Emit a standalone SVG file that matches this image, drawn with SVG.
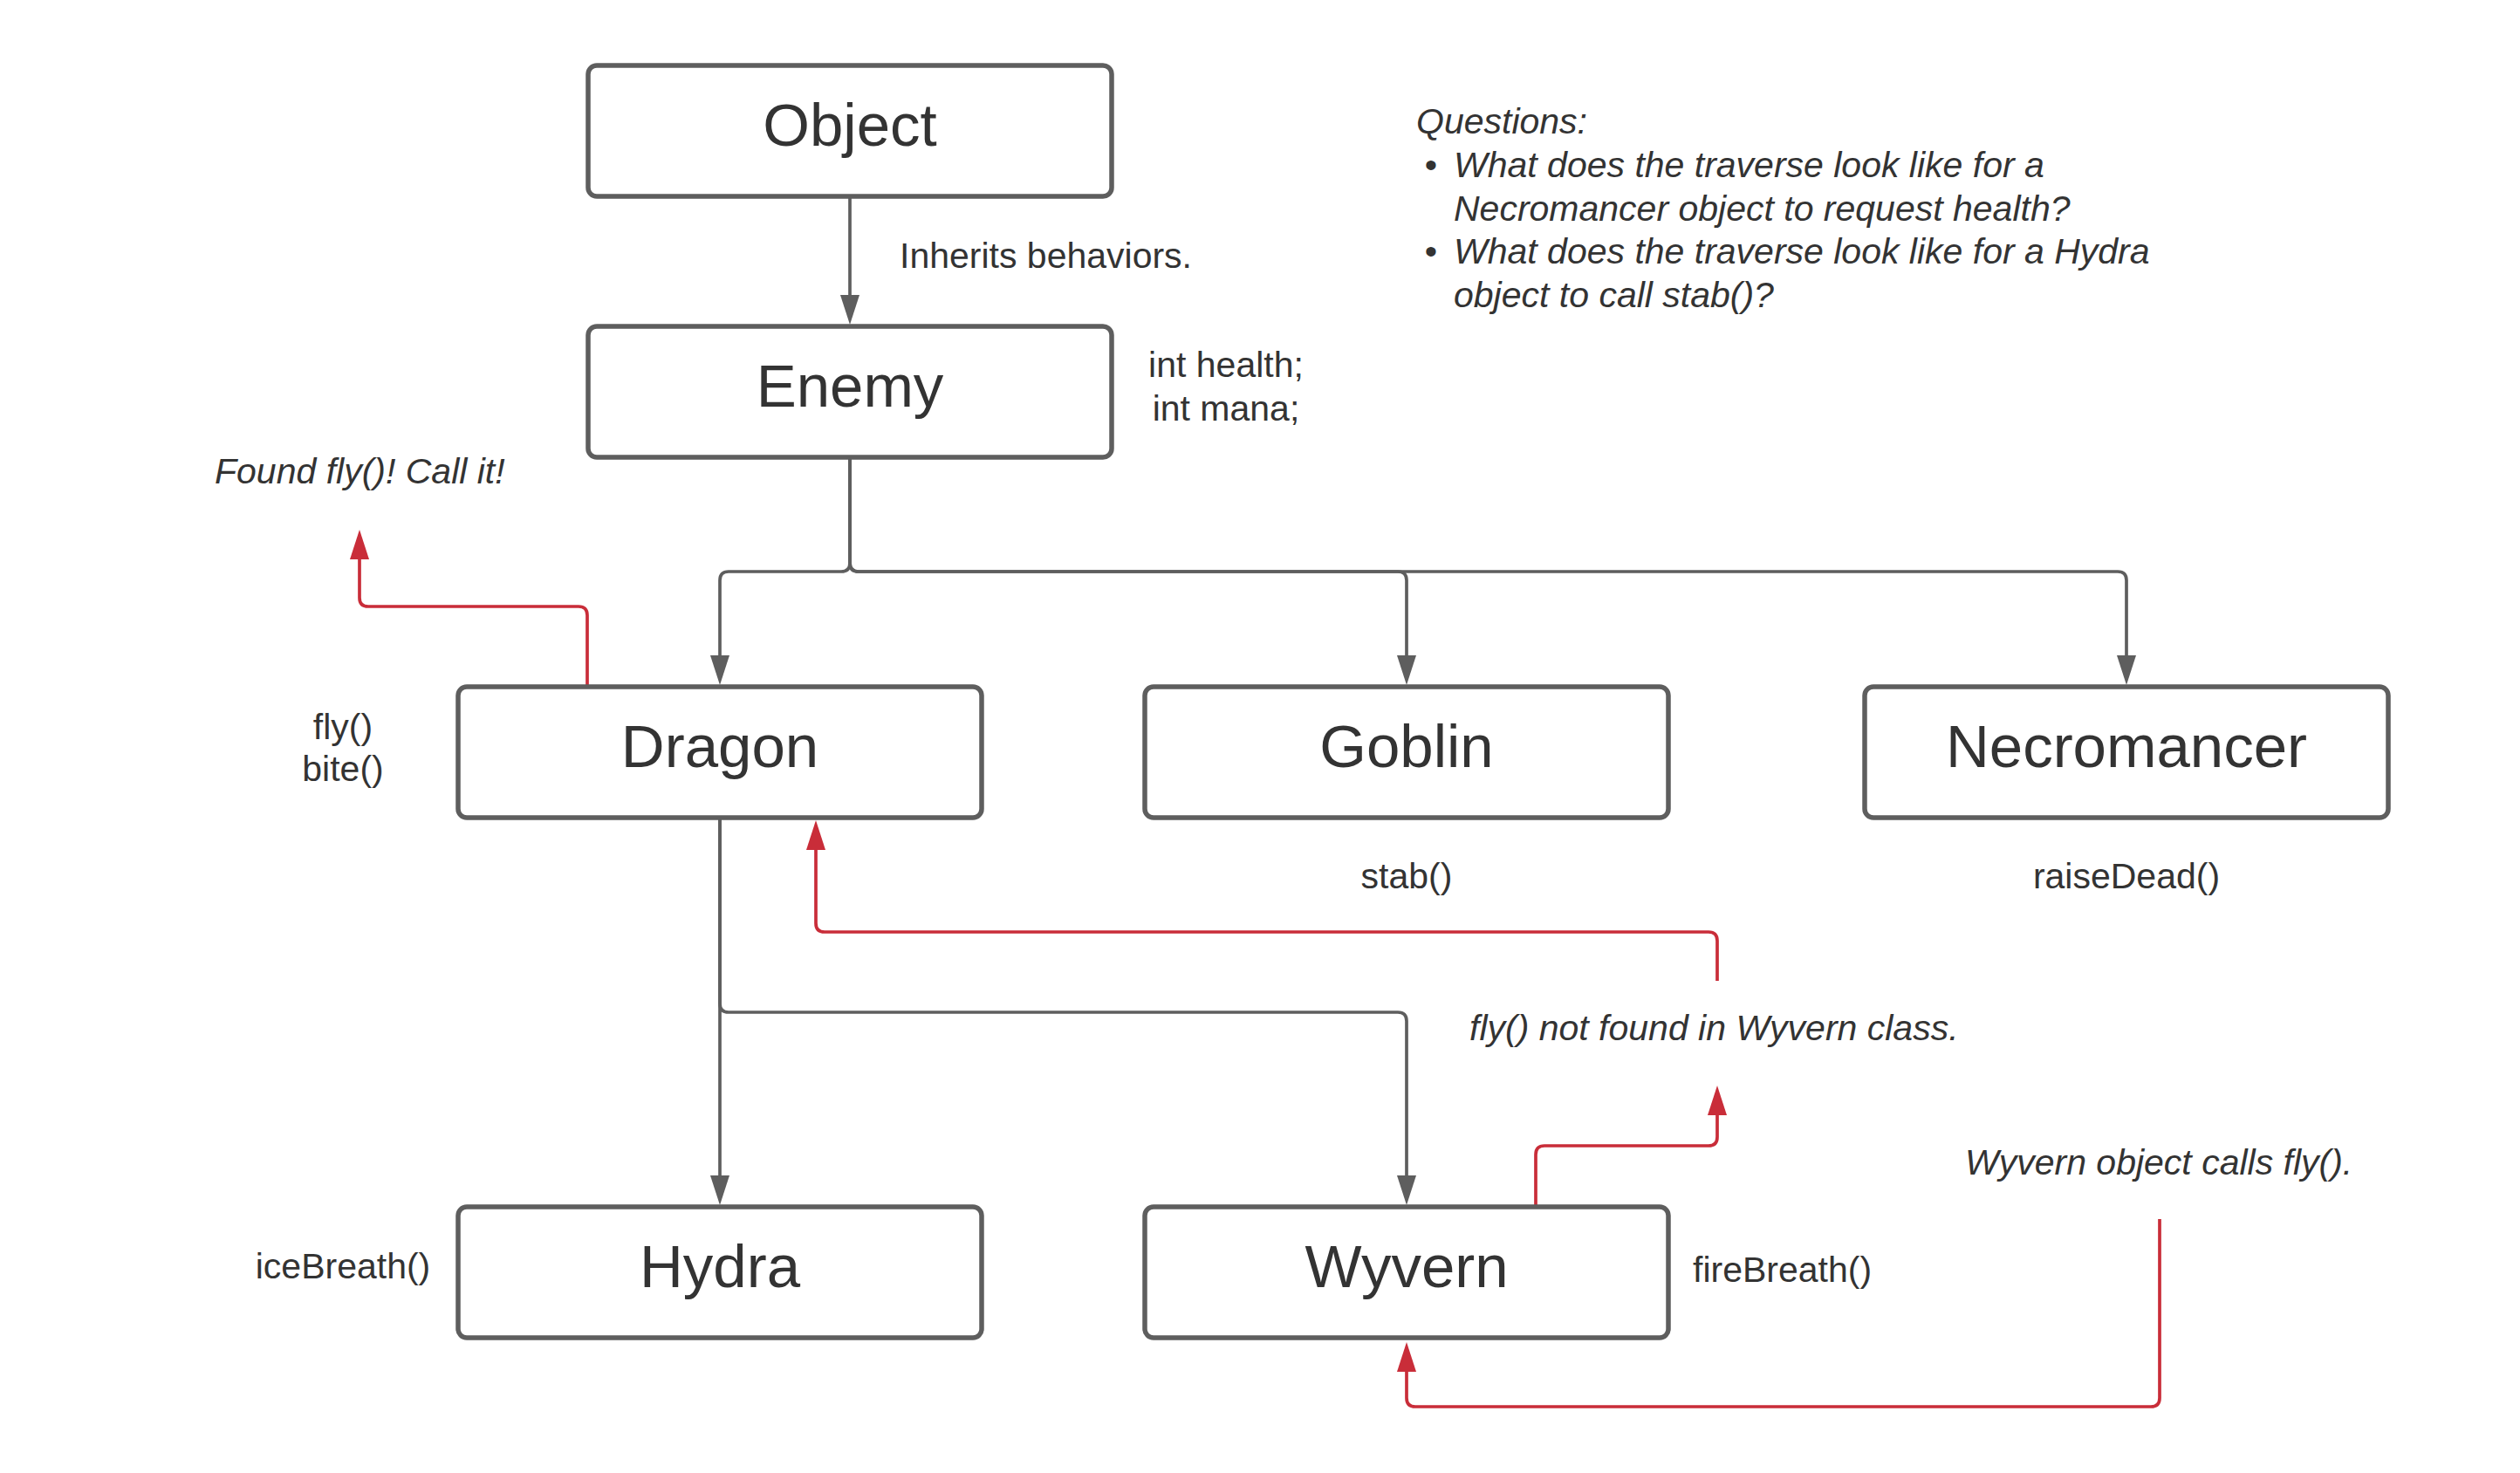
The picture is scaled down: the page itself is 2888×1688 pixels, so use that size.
<svg xmlns="http://www.w3.org/2000/svg" width="2888" height="1688" viewBox="0 0 2888 1688">
<style>
.box{fill:#ffffff;stroke:#5e5e5e;stroke-width:5.5}
.title{font-family:"Liberation Sans",Arial,sans-serif;font-size:69px;fill:#333333;text-anchor:middle}
.lbl{font-family:"Liberation Sans",Arial,sans-serif;font-size:41px;fill:#333333}
.it{font-style:italic}
.mid{text-anchor:middle}
.g{fill:none;stroke:#5e5e5e;stroke-width:3.7}
.r{fill:none;stroke:#c92d39;stroke-width:3.7}
</style>
<defs>
<marker id="ag" markerUnits="userSpaceOnUse" markerWidth="36" markerHeight="24" refX="0" refY="11" orient="auto" overflow="visible">
<path d="M0,0 L34,11 L0,22 z" fill="#5e5e5e"/>
</marker>
<marker id="ar" markerUnits="userSpaceOnUse" markerWidth="36" markerHeight="24" refX="0" refY="11" orient="auto" overflow="visible">
<path d="M0,0 L34,11 L0,22 z" fill="#c92d39"/>
</marker>
</defs>
<rect width="2888" height="1688" fill="#ffffff"/>
<g id="connectors">
<path class="g" d="M974,225 V338" marker-end="url(#ag)"/>
<path class="g" d="M974,524 V645 Q974,655 964,655 H835 Q825,655 825,665 V751" marker-end="url(#ag)"/>
<path class="g" d="M974,524 V645 Q974,655 984,655 H1602 Q1612,655 1612,665 V751" marker-end="url(#ag)"/>
<path class="g" d="M974,524 V645 Q974,655 984,655 H2427 Q2437,655 2437,665 V751" marker-end="url(#ag)"/>
<path class="g" d="M825,937 V1347" marker-end="url(#ag)"/>
<path class="g" d="M825,937 V1150 Q825,1160 835,1160 H1602 Q1612,1160 1612,1170 V1347" marker-end="url(#ag)"/>
<path class="r" d="M673,785 V705 Q673,695 663,695 H422 Q412,695 412,685 V641" marker-end="url(#ar)"/>
<path class="r" d="M1968,1124 V1078 Q1968,1068 1958,1068 H945 Q935,1068 935,1058 V974" marker-end="url(#ar)"/>
<path class="r" d="M1760,1381 V1323 Q1760,1313 1770,1313 H1958 Q1968,1313 1968,1303 V1278" marker-end="url(#ar)"/>
<path class="r" d="M2475,1397 V1602 Q2475,1612 2465,1612 H1622 Q1612,1612 1612,1602 V1572" marker-end="url(#ar)"/>
</g>
<g id="node-object">
<rect class="box" x="674" y="75" width="600" height="150" rx="10"/>
<text class="title" x="974" y="167">Object</text>
</g>
<g id="node-enemy">
<rect class="box" x="674" y="374" width="600" height="150" rx="10"/>
<text class="title" x="974" y="466">Enemy</text>
</g>
<g id="node-dragon">
<rect class="box" x="525" y="787" width="600" height="150" rx="10"/>
<text class="title" x="825" y="879">Dragon</text>
</g>
<g id="node-goblin">
<rect class="box" x="1312" y="787" width="600" height="150" rx="10"/>
<text class="title" x="1612" y="879">Goblin</text>
</g>
<g id="node-necromancer">
<rect class="box" x="2137" y="787" width="600" height="150" rx="10"/>
<text class="title" x="2437" y="879">Necromancer</text>
</g>
<g id="node-hydra">
<rect class="box" x="525" y="1383" width="600" height="150" rx="10"/>
<text class="title" x="825" y="1475">Hydra</text>
</g>
<g id="node-wyvern">
<rect class="box" x="1312" y="1383" width="600" height="150" rx="10"/>
<text class="title" x="1612" y="1475">Wyvern</text>
</g>
<g id="labels">
<text class="lbl" x="1031" y="307">Inherits behaviors.</text>
<text class="lbl mid" x="1405" y="432">int health;</text>
<text class="lbl mid" x="1405" y="482">int mana;</text>
<text class="lbl it" x="1623" y="153">Questions:</text>
<text class="lbl mid" x="1640" y="203">•</text>
<text class="lbl it" x="1666" y="203">What does the traverse look like for a</text>
<text class="lbl it" x="1666" y="253">Necromancer object to request health?</text>
<text class="lbl mid" x="1640" y="302">•</text>
<text class="lbl it" x="1666" y="302">What does the traverse look like for a Hydra</text>
<text class="lbl it" x="1666" y="352">object to call stab()?</text>
<text class="lbl it" x="246" y="554">Found fly()! Call it!</text>
<text class="lbl mid" x="393" y="847">fly()</text>
<text class="lbl mid" x="393" y="895">bite()</text>
<text class="lbl mid" x="1612" y="1018">stab()</text>
<text class="lbl mid" x="2437" y="1018">raiseDead()</text>
<text class="lbl it" x="1684" y="1192">fly() not found in Wyvern class.</text>
<text class="lbl it" x="2252" y="1346">Wyvern object calls fly().</text>
<text class="lbl mid" x="393" y="1465">iceBreath()</text>
<text class="lbl" x="1940" y="1469">fireBreath()</text>
</g>
</svg>
